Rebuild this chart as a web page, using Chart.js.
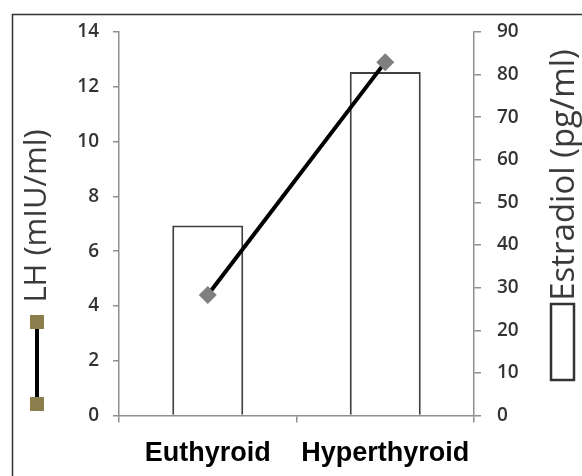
<!DOCTYPE html>
<html>
<head>
<meta charset="utf-8">
<script src="https://cdn.jsdelivr.net/npm/chart.js@4"></script>
<style>
  body { margin: 0; background: #fff; }
  #wrap { width: 582px; height: 476px; }
</style>
</head>
<body>
<div id="wrap"><canvas id="grafico" width="582" height="476"></canvas></div>
<script>
let categories = ["Euthyroid", "Hyperthyroid"];
let lhValues = [4.4, 12.9];
let estradiolValues = [44.6, 80.6];
let lhTitle = "LH (mIU/ml)";
let estradiolTitle = "Estradiol (pg/ml)";

let axisGray = "#8f8f8f";
let tickFont = { family: "Open Sans", size: 19, weight: "600" };

// frame, axis titles and the sideways legend keys
let extras = {
  id: "extras",
  beforeDraw(chart) {
    let ctx = chart.ctx;
    ctx.save();
    ctx.strokeStyle = "#333";
    ctx.lineWidth = 1.5;
    ctx.beginPath();
    ctx.moveTo(12.5, 480);
    ctx.lineTo(12.5, 14.5);
    ctx.lineTo(590, 14.5);
    ctx.stroke();
    ctx.restore();
  },
  afterDraw(chart) {
    let ctx = chart.ctx;
    ctx.save();
    ctx.fillStyle = "#3a3a3a";
    ctx.font = "31px 'Open Sans'";
    ctx.textAlign = "center";
    ctx.textBaseline = "alphabetic";

    ctx.save();
    ctx.translate(46, 216);
    ctx.rotate(-Math.PI / 2);
    ctx.fillText(lhTitle, 0, 0);
    ctx.restore();

    ctx.save();
    ctx.font = "33px 'Open Sans'";
    ctx.translate(574, 175);
    ctx.rotate(-Math.PI / 2);
    ctx.fillText(estradiolTitle, 0, 0);
    ctx.restore();

    // LH key: line with two squares
    ctx.strokeStyle = "#000";
    ctx.lineWidth = 4;
    ctx.beginPath();
    ctx.moveTo(37, 322);
    ctx.lineTo(37, 404);
    ctx.stroke();
    ctx.fillStyle = "#8c7e4c";
    ctx.fillRect(30, 315, 14, 14);
    ctx.fillRect(30, 397, 14, 14);

    // Estradiol key: empty box
    ctx.strokeStyle = "#333";
    ctx.lineWidth = 2.5;
    ctx.strokeRect(551, 304, 23, 76);
    ctx.restore();
  },
};

new Chart(document.getElementById("grafico"), {
  type: "bar",
  data: {
    labels: categories,
    datasets: [
      {
        type: "line",
        label: lhTitle,
        data: lhValues,
        yAxisID: "y",
        order: 0,
        borderColor: "#000",
        borderWidth: 4,
        pointStyle: "rectRot",
        pointRadius: 9,
        pointBackgroundColor: "#7f7f7f",
        pointBorderWidth: 0,
      },
      {
        label: estradiolTitle,
        data: estradiolValues,
        yAxisID: "y1",
        order: 1,
        backgroundColor: "#fff",
        borderColor: "#404040",
        borderWidth: 2,
        barPercentage: 0.4,
        categoryPercentage: 1,
      },
    ],
  },
  options: {
    responsive: false,
    animation: false,
    layout: { padding: { top: 32, left: 0, right: 0, bottom: 0 } },
    plugins: { legend: { display: false }, tooltip: { enabled: false } },
    scales: {
      x: {
        grid: { offset: true, drawOnChartArea: false, tickLength: 7, color: axisGray, lineWidth: 1.5 },
        border: { color: axisGray, width: 1.5 },
        ticks: { color: "#000", font: { family: "Liberation Sans", size: 27, weight: "bold" }, padding: 15 },
        afterFit: (s) => { s.height = 60.5; },
      },
      y: {
        position: "left",
        min: 0,
        max: 14,
        grid: { drawOnChartArea: false, tickLength: 6, color: axisGray, lineWidth: 1.5 },
        border: { color: axisGray, width: 1.5 },
        ticks: { stepSize: 2, color: "#333", font: tickFont, padding: 14 },
        afterFit: (s) => { s.width = 119; },
      },
      y1: {
        position: "right",
        min: 0,
        max: 90,
        grid: { drawOnChartArea: false, tickLength: 7, color: axisGray, lineWidth: 1.5 },
        border: { color: axisGray, width: 1.5 },
        ticks: { stepSize: 10, color: "#333", font: tickFont, padding: 16 },
        afterFit: (s) => { s.width = 108; },
      },
    },
  },
  plugins: [extras],
});
</script>
</body>
</html>
